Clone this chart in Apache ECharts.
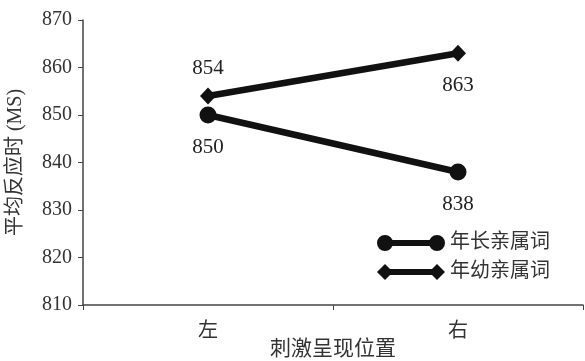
<!DOCTYPE html>
<html>
<head>
<meta charset="utf-8">
<script src="https://cdn.jsdelivr.net/npm/echarts@6/dist/echarts.min.js"></script>
<style>
  html, body { margin: 0; padding: 0; background: #fff; }
  #main { width: 585px; height: 361px; }
</style>
</head>
<body>
<div id="main"></div>
<script>
// 数据
var categories = ['左', '右'];
var elderData = [850, 838];   // 年长亲属词
var youngData = [854, 863];   // 年幼亲属词
var seriesNames = ['年长亲属词', '年幼亲属词'];

var font = '"Liberation Serif", "Noto Sans CJK SC", serif';

// 图例图标：两端带标记的线段 (68x16)
var circleIcon = 'path://M0 8 A8 8 0 1 1 16 8 A8 8 0 1 1 0 8 Z M8 5 L60 5 L60 11 L8 11 Z M52 8 A8 8 0 1 1 68 8 A8 8 0 1 1 52 8 Z';
var diamondIcon = 'path://M0 8 L8 0 L16 8 L8 16 Z M8 5 L60 5 L60 11 L8 11 Z M52 8 L60 0 L68 8 L60 16 Z';

var myChart = echarts.init(document.getElementById('main'));

var option = {
    animation: false,
    backgroundColor: '#fff',
    textStyle: { fontFamily: font },
    grid: { left: 83, right: 2, top: 20, bottom: 56, containLabel: false, outerBoundsMode: 'none' },
    legend: {
        orient: 'vertical',
        left: 372,
        top: 228,
        itemWidth: 68,
        itemHeight: 16,
        itemGap: 9,
        textStyle: { fontSize: 20, color: '#333', fontFamily: font },
        data: [
            { name: seriesNames[0], icon: circleIcon, itemStyle: { color: '#111' } },
            { name: seriesNames[1], icon: diamondIcon, itemStyle: { color: '#111' } }
        ]
    },
    xAxis: {
        type: 'category',
        data: categories,
        boundaryGap: true,
        name: '刺激呈现位置',
        nameLocation: 'middle',
        nameGap: 34,
        nameMoveOverlap: false,
        nameTextStyle: { fontSize: 21, color: '#333', fontFamily: font },
        axisLine: { lineStyle: { color: '#444', width: 1.5 } },
        axisTick: { show: true, length: 5, lineStyle: { color: '#444' } },
        axisLabel: { fontSize: 20, color: '#333', margin: 17 }
    },
    yAxis: {
        type: 'value',
        min: 810,
        max: 870,
        interval: 10,
        name: '平均反应时 (MS)',
        nameLocation: 'middle',
        nameGap: 57,
        nameMoveOverlap: false,
        nameTextStyle: { fontSize: 20, color: '#333', fontFamily: font },
        splitLine: { show: false },
        axisLine: { show: true, lineStyle: { color: '#444', width: 1.5 } },
        axisTick: { show: true, length: 5, lineStyle: { color: '#444' } },
        axisLabel: { fontSize: 20, color: '#333', margin: 11 }
    },
    series: [
        {
            name: seriesNames[0],
            type: 'line',
            data: elderData,
            symbol: 'circle',
            symbolSize: 17,
            lineStyle: { color: '#111', width: 6.5 },
            itemStyle: { color: '#111' },
            label: { show: true, position: 'bottom', distance: 13, fontSize: 21, color: '#222' }
        },
        {
            name: seriesNames[1],
            type: 'line',
            data: youngData.map(function (v, i) {
                return {
                    value: v,
                    label: i === 0 ? { position: 'top', distance: 9 } : { position: 'bottom', distance: 13 }
                };
            }),
            symbol: 'diamond',
            symbolSize: [16, 17],
            lineStyle: { color: '#111', width: 6.5 },
            itemStyle: { color: '#111' },
            label: { show: true, fontSize: 21, color: '#222' }
        }
    ]
};

myChart.setOption(option);
window.addEventListener('resize', function () {
    myChart.resize();
});
</script>
</body>
</html>
